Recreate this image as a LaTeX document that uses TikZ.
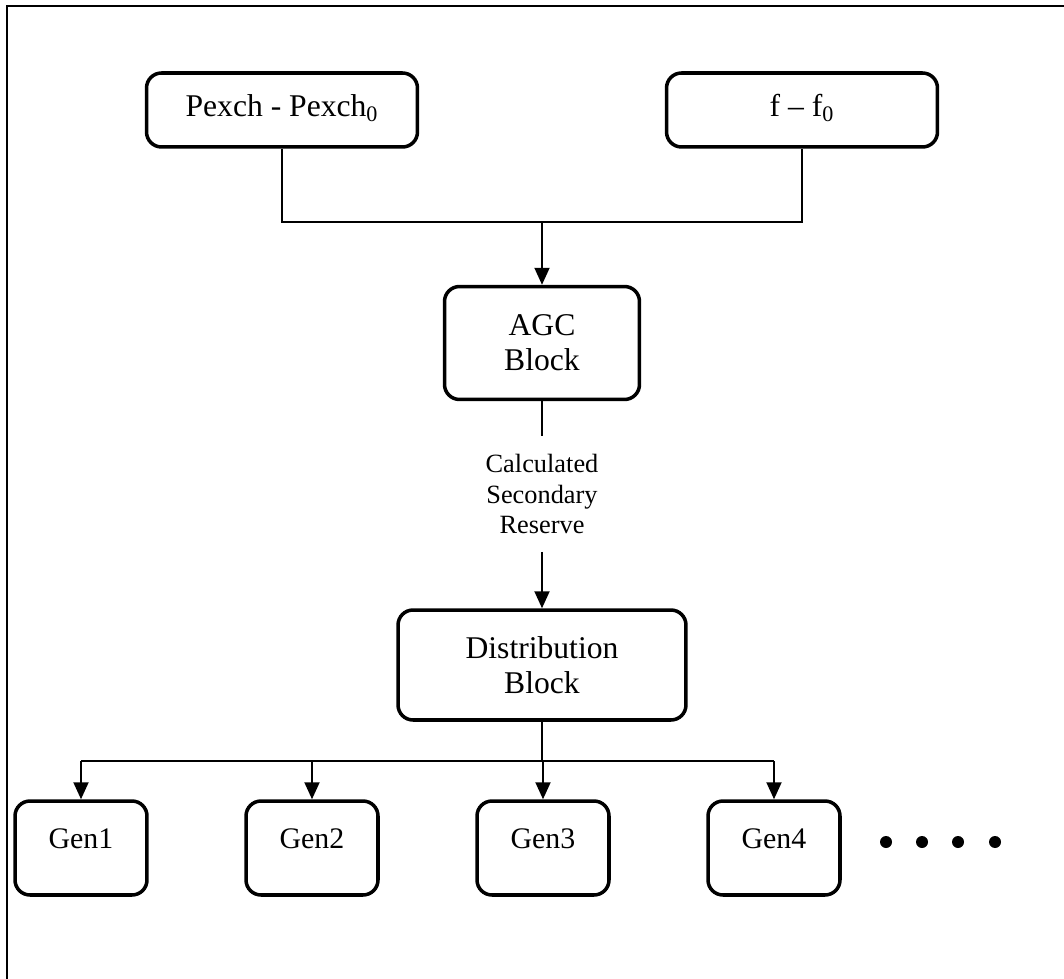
\documentclass[tikz,border=0pt]{standalone}
\usepackage{fontspec}
\setmainfont{Liberation Serif}
\usepackage{tikz}
\usetikzlibrary{arrows.meta,calc}

\tikzset{
    blk/.style={draw, line width=2pt, rounded corners=0.3cm, align=center,
        font=\fontsize{18}{19.5}\selectfont, inner sep=0pt},
    wire/.style={line width=1.1pt},
    feed/.style={wire, -{Triangle[length=0.34cm,width=0.3cm]}}
}

\begin{document}
\begin{tikzpicture}[x=0.02cm,y=-0.02cm]
                    \useasboundingbox (0,0) rectangle (1064,979);
                    \draw [line width=1.1pt] (7,979) -- (7,6) -- (1064,6);

                    \coordinate (join) at (542,222);
                    \coordinate (bus) at (542,761);

                    \node [blk, minimum width=5.42cm, minimum height=1.48cm, text depth=5pt] (pex) at (282,110) {Pexch - Pexch\textsubscript{0}};
                    \node [blk, minimum width=5.42cm, minimum height=1.48cm, text depth=5pt] (ff) at (802,110) {f -- f\textsubscript{0}};

                    \node [blk, minimum width=3.9cm, minimum height=2.26cm, font=\fontsize{18}{20}\selectfont] (agc) at (542,343) {AGC\\Block};
                    \node [align=center, minimum height=2.3cm, inner sep=0pt, font=\fontsize{15}{17.6}\selectfont] (res) at (542,494) {Calculated\\Secondary\\Reserve};
                    \node [blk, minimum width=5.76cm, minimum height=2.2cm, font=\fontsize{18}{20}\selectfont] (dist) at (542,665) {Distribution\\Block};

                    \foreach \i in {1,...,4} {
                        \node [blk, minimum width=2.64cm, minimum height=1.88cm, text height=12pt, text depth=12pt, font=\fontsize{17}{19}\selectfont] (g\i) at (81+231*\i-231,848) {Gen\i};
                    }

                    \draw [wire] (pex.south) -- (pex.south |- join) -- (ff.south |- join) -- (ff.south);
                    \draw [feed] (join) -- (agc.north);
                    \draw [wire] (agc.south) -- (res.north);
                    \draw [feed] (res.south) -- (dist.north);
                    \draw [wire] (dist.south) -- (bus);
                    \draw [wire] (g1.north |- bus) -- (g4.north |- bus);
                    \foreach \i in {1,...,4} {
                        \draw [feed] (g\i.north |- bus) -- (g\i.north);
                    }

                    \foreach \x in {886,922,958,995} {
                        \fill (\x,842) circle (0.12cm);
                    }
                \end{tikzpicture}
\end{document}
